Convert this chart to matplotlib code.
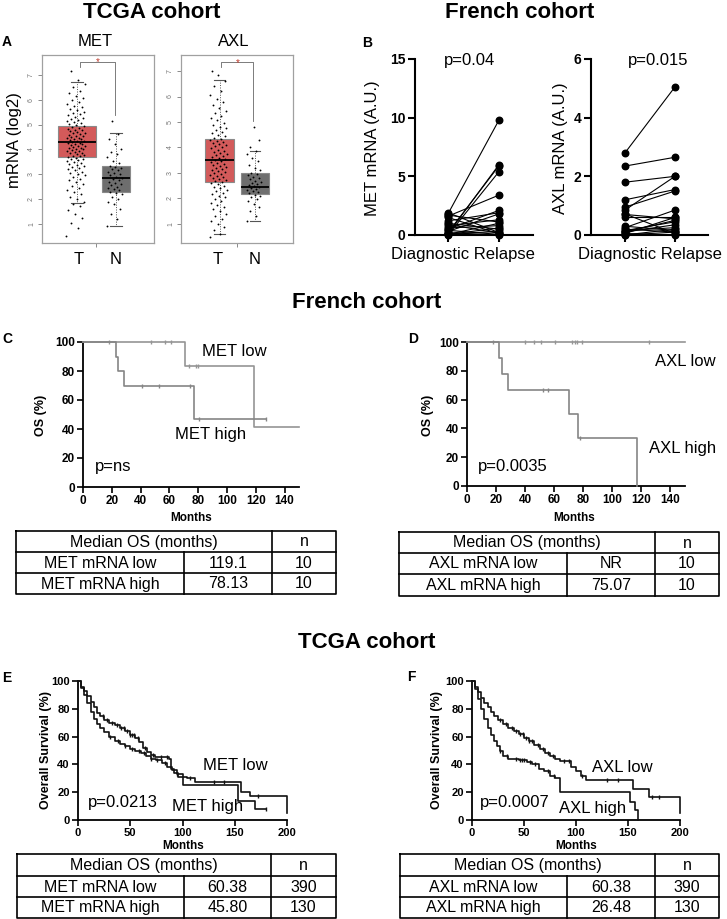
import numpy as np
import matplotlib.pyplot as plt

plt.rcParams['font.family'] = ['Liberation Sans', 'DejaVu Sans']

W, H = 727, 919

# ---------------- data: panel A (TCGA, T vs N box plots) ----------------
met_q1 = [3.7, 2.3]
met_med = [4.3, 2.85]
met_q3 = [4.95, 3.35]
met_lo = [1.85, 0.93]
met_hi = [6.7, 4.65]
axl_q1 = [2.65, 2.17]
axl_med = [3.5, 2.45]
axl_q3 = [4.33, 3.0]
axl_lo = [0.6, 1.1]
axl_hi = [6.65, 3.86]

met_t_pts = [0.5, 0.85, 1.05, 1.25, 1.4, 1.55, 1.7, 1.8, 1.9, 2.0, 2.1, 2.2, 2.3, 2.38,
             2.45, 2.52, 2.6, 2.68, 2.75, 2.82, 2.88, 2.95, 3.0, 3.05, 3.1, 3.15, 3.2,
             3.24, 3.28, 3.32, 3.36, 3.4, 3.44, 3.48, 3.52, 3.56, 3.6, 3.63, 3.66, 3.69,
             3.72, 3.75, 3.78, 3.81, 3.84, 3.87, 3.9, 3.92, 3.94, 3.97, 4.0, 4.02, 4.04,
             4.07, 4.1, 4.12, 4.14, 4.17, 4.2, 4.22, 4.24, 4.27, 4.3, 4.32, 4.34, 4.37,
             4.4, 4.42, 4.44, 4.47, 4.5, 4.52, 4.55, 4.58, 4.61, 4.64, 4.67, 4.7, 4.73,
             4.76, 4.79, 4.82, 4.86, 4.9, 4.94, 4.98, 5.02, 5.06, 5.1, 5.14, 5.18, 5.22,
             5.27, 5.32, 5.37, 5.42, 5.47, 5.52, 5.58, 5.64, 5.7, 5.76, 5.82, 5.9, 5.98,
             6.06, 6.15, 6.25, 6.35, 6.5, 6.65, 6.8, 7.15]
met_n_pts = [0.9, 1.2, 1.4, 1.6, 1.8, 1.9, 2.0, 2.1, 2.2, 2.25, 2.3, 2.35, 2.4, 2.45, 2.5,
             2.55, 2.6, 2.65, 2.7, 2.75, 2.8, 2.85, 2.9, 2.95, 3.0, 3.05, 3.1, 3.15, 3.2,
             3.25, 3.3, 3.35, 3.45, 3.55, 3.7, 3.8, 3.9, 4.0, 4.2, 4.4, 4.6, 5.15]
axl_t_pts = [0.5, 0.62, 0.75, 0.88, 1.0, 1.1, 1.2, 1.3, 1.4, 1.5, 1.58, 1.66, 1.74, 1.82,
             1.9, 1.97, 2.04, 2.1, 2.16, 2.22, 2.28, 2.34, 2.4, 2.45, 2.5, 2.55, 2.6, 2.64,
             2.68, 2.72, 2.76, 2.8, 2.84, 2.88, 2.92, 2.96, 3.0, 3.04, 3.08, 3.12, 3.16,
             3.2, 3.24, 3.28, 3.32, 3.36, 3.4, 3.44, 3.48, 3.52, 3.56, 3.6, 3.64, 3.68,
             3.72, 3.76, 3.8, 3.84, 3.88, 3.92, 3.96, 4.0, 4.04, 4.08, 4.12, 4.16, 4.2,
             4.24, 4.28, 4.32, 4.38, 4.44, 4.5, 4.56, 4.62, 4.68, 4.75, 4.82, 4.9, 4.98,
             5.06, 5.15, 5.25, 5.35, 5.45, 5.55, 5.65, 5.78, 5.9, 6.05, 6.2, 6.4, 6.6,
             6.85, 7.0]
axl_n_pts = [1.1, 1.3, 1.5, 1.65, 1.8, 1.9, 1.98, 2.05, 2.1, 2.15, 2.2, 2.24, 2.28, 2.32,
             2.36, 2.4, 2.44, 2.48, 2.52, 2.56, 2.6, 2.65, 2.7, 2.75, 2.8, 2.85, 2.9, 2.95,
             3.0, 3.1, 3.2, 3.3, 3.45, 3.6, 3.75, 3.85, 4.0, 4.3, 4.8]

# ---------------- data: panel B (French cohort, paired) ----------------
met_diag = [1.8, 0.1, 0.2, 0.0, 1.6, 0.5, 1.2, 0.3, 0.8, 1.9,
            1.5, 0.05, 0.6, 1.0, 0.4, 0.1, 1.7, 0.2, 0.05, 0.9]
met_relapse = [9.8, 6.0, 5.9, 5.4, 3.4, 2.1, 1.9, 1.8, 1.3, 0.2,
               0.1, 1.0, 0.8, 0.5, 0.05, 0.3, 1.1, 0.0, 0.6, 0.15]
axl_diag = [2.8, 2.35, 1.8, 1.2, 0.95, 0.85, 0.7, 0.6, 0.25, 0.2,
            0.15, 0.1, 0.05, 0.0, 0.72, 0.3, 0.05, 0.1, 0.0, 0.15]
axl_relapse = [5.05, 2.65, 2.0, 1.55, 1.5, 2.0, 0.55, 0.6, 0.85, 0.1,
               0.45, 0.35, 0.6, 0.2, 0.05, 0.15, 0.0, 0.5, 0.1, 0.25]

# ---------------- data: panels C/D (French cohort OS) ----------------
c_low_t = [0, 71, 118.6, 150]
c_low_s = [100, 83.3, 41.7, 41.7]
c_low_cens = [18, 47, 57, 61, 73.3, 78.7, 80]
c_high_t = [0, 22.9, 24.5, 28.7, 77, 127]
c_high_s = [100, 90, 80, 70, 46.7, 46.7]
c_high_cens = [41, 52.8, 74.3, 80.5, 127]

d_low_t = [0, 150]
d_low_s = [100, 100]
d_low_cens = [18, 40, 46, 51, 60.5, 72.3, 74.1, 75.7, 79.1, 125]
d_high_t = [0, 22, 24.3, 28.1, 70.5, 76.4, 117]
d_high_s = [100, 88.9, 77.8, 66.7, 50, 33.3, 0]
d_high_cens = [52.1, 55.7, 77.7]

# ---------------- data: panels E/F (TCGA OS) ----------------
e_low_t = [0, 3, 6, 9, 12, 15, 18, 21, 25, 30, 35, 40, 45, 50, 55, 58, 62, 66, 70, 74,
           87.5, 89, 92, 96, 104, 112, 156, 165, 200]
e_low_s = [100, 96, 93, 89, 85, 81, 77, 75, 72, 70, 68, 66, 64, 61, 59, 56, 52, 49, 47,
           45, 44, 37, 34, 31, 30, 27.5, 20, 17, 5]
e_low_cens = [24, 28, 33, 37, 41, 44, 47, 50, 52, 54, 57, 64, 72, 79, 85, 107, 130, 140, 172]
e_high_t = [0, 3, 6, 9, 12, 15, 18, 21, 25, 30, 35, 40, 45, 50, 55, 60, 65, 70, 75, 80,
            85, 90, 95, 100, 153, 169, 180]
e_high_s = [100, 95, 90, 84, 78, 73, 69, 66, 63, 60, 57, 55, 53, 51, 50, 48, 46, 44, 43,
            41, 38, 36, 33, 25, 14, 8, 8]
e_high_cens = [31, 38, 45, 52, 58, 63, 70, 76, 83, 95, 180]

f_low_t = [0, 3, 6, 9, 12, 15, 18, 21, 25, 30, 35, 40, 45, 50, 55, 60, 65, 70, 75, 80,
           85, 95, 100, 105, 110, 155, 170, 200]
f_low_s = [100, 96, 92, 88, 84, 81, 78, 75, 72, 69, 66, 64, 62, 59, 57, 54, 51, 48, 46,
           44, 42.5, 38, 35, 32, 28.5, 22.5, 16.5, 5]
f_low_cens = [27, 33, 38, 42, 46, 49, 52, 55, 58, 63, 68, 73, 78, 88, 93, 106, 130, 140,
              173, 180]
f_high_t = [0, 3, 6, 9, 12, 15, 18, 21, 24, 27, 30, 35, 45, 53, 58, 64, 69, 75, 80, 85,
            152, 157, 160]
f_high_s = [100, 94, 87, 80, 73, 66, 61, 57, 53, 50, 46, 44, 43, 42, 40, 37, 35, 32, 30,
            20, 13, 7, 0]
f_high_cens = [27, 34, 42, 46, 48, 50, 56, 61, 73, 79]

# ---------------- data: tables ----------------
table_c_rows = ['MET mRNA low', 'MET mRNA high']
table_c_median = ['119.1', '78.13']
table_c_n = ['10', '10']
table_d_rows = ['AXL mRNA low', 'AXL mRNA high']
table_d_median = ['NR', '75.07']
table_d_n = ['10', '10']
table_e_rows = ['MET mRNA low', 'MET mRNA high']
table_e_median = ['60.38', '45.80']
table_e_n = ['390', '130']
table_f_rows = ['AXL mRNA low', 'AXL mRNA high']
table_f_median = ['60.38', '26.48']
table_f_n = ['390', '130']

# ============================================
fig = plt.figure(figsize=(W / 100, H / 100), dpi=100)


def add_ax(x0, y0, x1, y1):
    # axes from pixel box (y measured from the top)
    return fig.add_axes([x0 / W, 1 - y1 / H, (x1 - x0) / W, (y1 - y0) / H])


# ---- Panel A ----
def box_panel(rect, q1, med, q3, lo, hi, t_pts, n_pts, xlim, ylim, widths, bracket):
    ax = add_ax(*rect)
    stats = [dict(med=med[i], q1=q1[i], q3=q3[i], whislo=lo[i], whishi=hi[i], fliers=[])
             for i in range(2)]
    bp = ax.bxp(stats, positions=[1, 2], widths=widths, patch_artist=True,
                showfliers=False, capwidths=[0.3, 0.3],
                boxprops=dict(edgecolor='#8a8a8a', lw=0.8),
                whiskerprops=dict(color='#555555', lw=0.7, ls=(0, (1, 1.5))),
                capprops=dict(color='#555555', lw=0.8),
                medianprops=dict(color='black', lw=1.3))
    bp['boxes'][0].set_facecolor('#d35a5a')
    bp['boxes'][1].set_facecolor('#6e6e6e')
    for pos, pts, spread in [(1, t_pts, 0.24), (2, n_pts, 0.2)]:
        n = len(pts)
        offs = ((np.arange(n) * 0.618034) % 1 - 0.5) * 2 * spread
        ax.scatter(pos - 0.03 + offs, pts, s=1.8, c='black', lw=0, zorder=5)
    bx0, bx1, by_top, by_l, by_r = bracket
    ax.plot([bx0, bx0, bx1, bx1], [by_l, by_top, by_top, by_r], color='#666666', lw=0.6)
    ax.text((bx0 + bx1) / 2, by_top - 0.02, '*', color='#c0392b', ha='center', va='center',
            fontsize=7)
    ax.set_xlim(*xlim)
    ax.set_ylim(*ylim)
    ax.set_xticks([1.5])
    ax.set_xticklabels([])
    ax.set_yticks(range(1, 8))
    ax.set_yticklabels([str(v) for v in range(1, 8)], rotation=90, fontsize=5,
                       color='#777777', va='center')
    ax.tick_params(axis='both', length=3, width=0.6, color='#777777', pad=2)
    for sp in ax.spines.values():
        sp.set_color('#a0a0a0')
        sp.set_linewidth(0.9)
    return ax


box_panel((42, 55, 154, 243), met_q1, met_med, met_q3, met_lo, met_hi, met_t_pts, met_n_pts,
          (0.103, 2.974), (0.23, 7.8), [0.97, 0.72], (1.07, 1.98, 7.52, 7.3, 5.4))
box_panel((181, 55, 293, 243), axl_q1, axl_med, axl_q3, axl_lo, axl_hi, axl_t_pts, axl_n_pts,
          (-0.085, 3.07), (0.25, 7.63), [0.82, 0.79], (1.05, 1.95, 7.35, 7.16, 5.04))


# ---- Panel B ----
def paired_panel(rect, diag, rel, xlim, ymax, yticks):
    ax = add_ax(*rect)
    for d, r in zip(diag, rel):
        ax.plot([0, 1], [d, r], color='black', lw=0.8, zorder=2)
    ax.scatter(np.zeros(len(diag)), diag, s=22, c='black', zorder=3, clip_on=False)
    ax.scatter(np.ones(len(rel)), rel, s=22, c='black', zorder=3, clip_on=False)
    ax.set_xlim(*xlim)
    ax.set_ylim(0, ymax)
    ax.set_xticks([0, 1])
    ax.set_xticklabels([])
    ax.set_yticks(yticks)
    ax.set_yticklabels([str(v) for v in yticks], fontsize=10, fontweight='bold')
    ax.tick_params(length=5, width=1.5, pad=2)
    for s in ['top', 'right']:
        ax.spines[s].set_visible(False)
    for s in ['left', 'bottom']:
        ax.spines[s].set_linewidth(1.5)
    return ax


paired_panel((415, 59, 533, 235), met_diag, met_relapse, (-0.647, 1.667), 15, [0, 5, 10, 15])
paired_panel((591, 59, 708, 235), axl_diag, axl_relapse, (-0.68, 1.66), 6, [0, 2, 4, 6])


# ---- KM panels ----
def km_line(ax, t, s, cens, color, lw):
    ax.step(t, s, where='post', color=color, lw=lw, clip_on=False, zorder=3)
    t = np.asarray(t)
    s = np.asarray(s)
    idx = np.searchsorted(t, cens, side='right') - 1
    ax.plot(cens, s[idx], ls='none', marker='|', ms=3.5, mew=1.0, color=color,
            clip_on=False, zorder=3)


def km_axes(rect, xmax, xticks, fs):
    ax = add_ax(*rect)
    ax.set_xlim(0, xmax)
    ax.set_ylim(0, 100)
    ax.set_xticks(xticks)
    ax.set_yticks(range(0, 101, 20))
    ax.set_xticklabels([str(v) for v in xticks], fontsize=fs, fontweight='bold')
    ax.set_yticklabels([str(v) for v in range(0, 101, 20)], fontsize=fs, fontweight='bold')
    ax.tick_params(length=4, width=1.2, pad=2)
    for s in ['top', 'right']:
        ax.spines[s].set_visible(False)
    for s in ['left', 'bottom']:
        ax.spines[s].set_linewidth(1.3)
    return ax


xt_fr = list(range(0, 141, 20))
ax_c = km_axes((83, 342, 299, 487), 150, xt_fr, 8.5)
km_line(ax_c, c_low_t, c_low_s, c_low_cens, '#959595', 1.2)
km_line(ax_c, c_high_t, c_high_s, c_high_cens, '#858585', 1.2)

ax_d = km_axes((467, 342, 685, 486), 150, xt_fr, 8.5)
km_line(ax_d, d_low_t, d_low_s, d_low_cens, '#959595', 1.2)
km_line(ax_d, d_high_t, d_high_s, d_high_cens, '#858585', 1.2)

xt_tc = [0, 50, 100, 150, 200]
ax_e = km_axes((78, 681, 287, 820), 200, xt_tc, 8)
km_line(ax_e, e_low_t, e_low_s, e_low_cens, '#111111', 1.2)
km_line(ax_e, e_high_t, e_high_s, e_high_cens, '#111111', 1.2)

ax_f = km_axes((472, 681, 680, 820), 200, xt_tc, 8)
km_line(ax_f, f_low_t, f_low_s, f_low_cens, '#111111', 1.2)
km_line(ax_f, f_high_t, f_high_s, f_high_cens, '#111111', 1.2)

# ---- overlay in pixel coordinates for free text and tables ----
ov = fig.add_axes([0, 0, 1, 1])
ov.set_xlim(0, W)
ov.set_ylim(H, 0)
ov.axis('off')


def t(x, y, s, **kw):
    kw.setdefault('ha', 'center')
    kw.setdefault('va', 'center')
    ov.text(x, y, s, **kw)


# section titles
t(152, 12, 'TCGA cohort', fontsize=16, fontweight='bold')
t(520, 12, 'French cohort', fontsize=16, fontweight='bold')
t(367, 302, 'French cohort', fontsize=16, fontweight='bold')
t(367, 642, 'TCGA cohort', fontsize=16, fontweight='bold')

# panel letters
for lx, ly, lab in [(7, 42, 'A'), (367, 43, 'B'), (7, 339, 'C'), (413, 339, 'D'),
                    (7, 678, 'E'), (411, 677, 'F')]:
    t(lx, ly, lab, fontsize=10, fontweight='bold')

# panel A labels
t(95, 42, 'MET', fontsize=12)
t(234, 42, 'AXL', fontsize=12)
t(15, 140, 'mRNA (log2)', fontsize=12, rotation=90)
for x, s in [(79, 'T'), (116, 'N'), (218, 'T'), (255, 'N')]:
    t(x, 259, s, fontsize=12)

# panel B labels
t(373, 148, 'MET mRNA (A.U.)', fontsize=12, rotation=90)
t(560, 148, 'AXL mRNA (A.U.)', fontsize=12, rotation=90)
t(470, 60, 'p=0.04', fontsize=12)
t(658, 60, 'p=0.015', fontsize=12)
t(463, 254, 'Diagnostic Relapse', fontsize=12)
t(650, 254, 'Diagnostic Relapse', fontsize=12)

# panel C/D labels
t(41, 415, 'OS (%)', fontsize=9, fontweight='bold', rotation=90)
t(428, 415, 'OS (%)', fontsize=9, fontweight='bold', rotation=90)
t(191, 518, 'Months', fontsize=8.5, fontweight='bold')
t(574, 518, 'Months', fontsize=8.5, fontweight='bold')
t(234, 352, 'MET low', fontsize=12)
t(211, 435, 'MET high', fontsize=12)
t(113, 467, 'p=ns', fontsize=12)
t(685, 361, 'AXL low', fontsize=12)
t(683, 449, 'AXL high', fontsize=12)
t(513, 467, 'p=0.0035', fontsize=12)

# panel E/F labels
t(46, 750, 'Overall Survival (%)', fontsize=9, fontweight='bold', rotation=90)
t(437, 750, 'Overall Survival (%)', fontsize=9, fontweight='bold', rotation=90)
t(183, 846, 'Months', fontsize=8.5, fontweight='bold')
t(576, 846, 'Months', fontsize=8.5, fontweight='bold')
t(235, 766, 'MET low', fontsize=12)
t(208, 807, 'MET high', fontsize=12)
t(123, 802, 'p=0.0213', fontsize=12)
t(622, 767, 'AXL low', fontsize=12)
t(593, 808, 'AXL high', fontsize=12)
t(515, 803, 'p=0.0007', fontsize=12)


def draw_table(x0, xa, xb, x1, ys, rows, meds, ns):
    kw = dict(color='black', lw=1.2, solid_capstyle='projecting')
    ov.plot([x0, x1, x1, x0, x0], [ys[0], ys[0], ys[3], ys[3], ys[0]], **kw)
    for y in ys[1:3]:
        ov.plot([x0, x1], [y, y], **kw)
    ov.plot([xb, xb], [ys[0], ys[3]], **kw)
    ov.plot([xa, xa], [ys[1], ys[3]], **kw)
    fs = 11.5
    t((x0 + xb) / 2, (ys[0] + ys[1]) / 2 + 0.5, 'Median OS (months)', fontsize=fs)
    t((xb + x1) / 2, (ys[0] + ys[1]) / 2 + 0.5, 'n', fontsize=fs)
    for i in range(2):
        yc = (ys[i + 1] + ys[i + 2]) / 2 + 0.5
        t((x0 + xa) / 2, yc, rows[i], fontsize=fs)
        t((xa + xb) / 2, yc, meds[i], fontsize=fs)
        t((xb + x1) / 2, yc, ns[i], fontsize=fs)


draw_table(16, 184, 272, 336, [531, 552, 573, 594], table_c_rows, table_c_median, table_c_n)
draw_table(399, 567, 655, 719, [532, 553, 574, 596], table_d_rows, table_d_median, table_d_n)
draw_table(17, 184, 271, 336, [854, 876, 897, 917.5], table_e_rows, table_e_median, table_e_n)
draw_table(400, 567, 655, 719, [854, 876, 897, 917.5], table_f_rows, table_f_median, table_f_n)

fig.savefig('out.png', dpi=100)
